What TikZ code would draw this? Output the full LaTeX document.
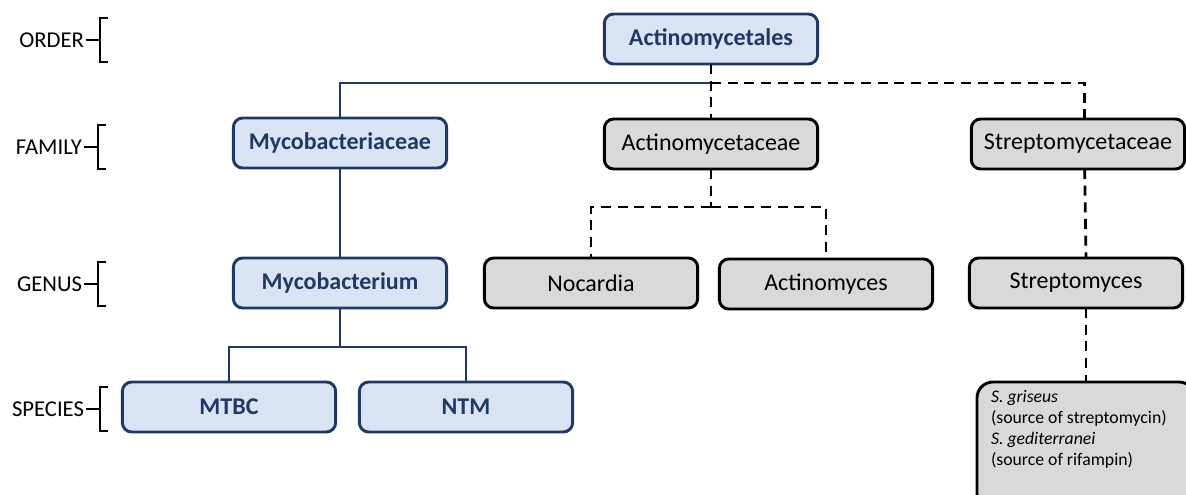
\documentclass[tikz,border=0pt]{standalone}
\usepackage{fontspec}
\setmainfont{Carlito}
\usepackage{tikz}

\definecolor{navy}{HTML}{203864}
\definecolor{paleblue}{HTML}{DAE3F3}
\definecolor{lightgray}{HTML}{D9D9D9}

\begin{document}
\begin{tikzpicture}[x=0.75pt, y=-0.75pt,
  every node/.style={outer sep=0pt},
  taxon/.style={rounded corners=7pt, line width=2.2pt, minimum width=160pt, minimum height=37.5pt, inner sep=2pt, font=\fontsize{18}{22}\selectfont},
  mycobox/.style={taxon, draw=navy, fill=paleblue, text=navy, font=\fontsize{18}{22}\selectfont\bfseries},
  otherbox/.style={taxon, draw=black, fill=lightgray},
  rank/.style={anchor=east, inner sep=0pt, font=\fontsize{17}{20}\selectfont},
  bluelink/.style={draw=navy, line width=2pt},
  dashlink/.style={draw=black, line width=2pt, dash pattern=on 7.5pt off 5pt}]
\clip (0,0) rectangle (1186,495);

% ranks on the left
\node[rank] (order) at (84,40) {ORDER};
\node[rank] (family) at (82,147) {FAMILY};
\node[rank] (genus) at (82,284) {GENUS};
\node[rank] (species) at (84,409) {SPECIES};
\foreach \r in {order,family,genus,species}
  \draw[line width=1.2pt] (\r.east) ++(2,0) -- ++(14,0) ++(8,-22) -- ++(-8,0) -- ++(0,44) -- ++(8,0);

% order
\node[mycobox] (actord) at (711,39) {Actinomycetales};

% family
\node[mycobox] (mycfam) at (340,143) {Mycobacteriaceae};
\node[otherbox] (actfam) at (711,144) {Actinomycetaceae};
\node[otherbox] (strfam) at (1078,144) {Streptomycetaceae};

% genus
\node[mycobox] (mycgen) at (340,283) {Mycobacterium};
\node[otherbox] (nocgen) at (591,283) {Nocardia};
\node[otherbox] (actgen) at (826,284) {Actinomyces};
\node[otherbox] (strgen) at (1076,283) {Streptomyces};

% species
\node[mycobox] (mtbc) at (229,407) {MTBC};
\node[mycobox] (ntm) at (466,407) {NTM};
\node[otherbox, rounded corners=12pt, minimum width=163.5pt, minimum height=96pt] (sgbox) at (1086,446) {};
\node[anchor=north west, inner sep=0pt, align=left, font=\fontsize{13.3}{15.75}\selectfont] (sgtext) at (991,390)
  {\textit{S. griseus}\\(source of streptomycin)\\\textit{S. gediterranei}\\(source of rifampin)};

% connectors
\coordinate (jt) at (711,83);
\draw[bluelink] (jt) -| (mycfam.north);
\draw[dashlink] (actord.south) -- (jt) -- (actfam.north);
\draw[dashlink] (jt) -| ([xshift=5pt]strfam.north);
\draw[bluelink] (mycfam.south) -- (mycgen.north);
\draw[bluelink] (mycgen.south) -- ++(0,39) coordinate (jm);
\draw[bluelink] (jm) -| (mtbc.north);
\draw[bluelink] (jm) -| (ntm.north);
\draw[dashlink] (actfam.south) -- ++(0,38) coordinate (ja);
\draw[dashlink] (ja) -| (nocgen.north);
\draw[dashlink] (ja) -| (actgen.north);
\draw[dashlink] ([xshift=5pt]strfam.south) -- ([xshift=7.5pt]strgen.north);
\draw[dashlink] ([xshift=7.5pt]strgen.south) -- (sgbox.north);
\end{tikzpicture}
\end{document}
